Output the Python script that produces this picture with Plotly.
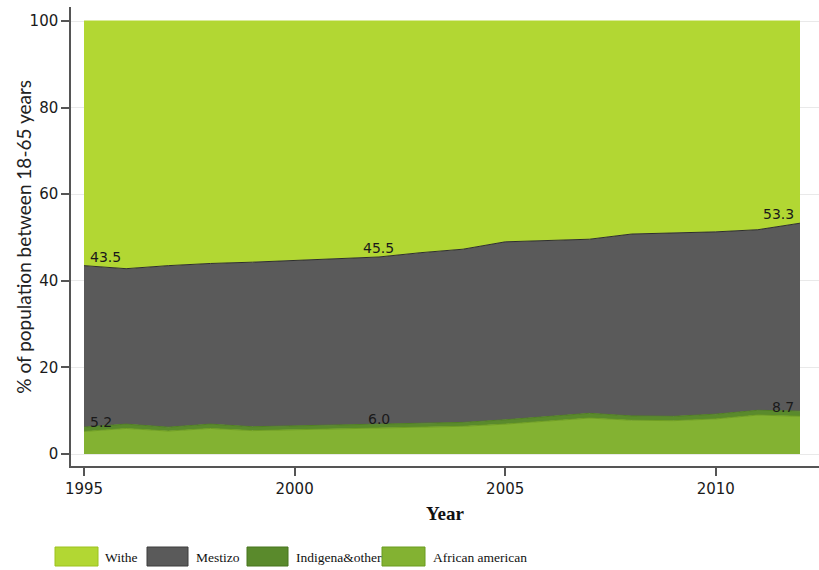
import plotly.graph_objects as go

years = list(range(1995, 2013))
african_american = [5.2, 5.9, 5.3, 5.9, 5.4, 5.6, 5.8, 6.0, 6.2, 6.4, 6.9, 7.6, 8.3, 7.8, 7.7, 8.1, 9.0, 8.7]
indigena_other = [1.0, 1.0, 0.9, 1.0, 0.9, 0.9, 1.0, 1.0, 1.0, 0.9, 1.0, 1.0, 1.1, 1.0, 1.0, 1.1, 1.1, 1.2]
mestizo = [37.3, 35.9, 37.3, 37.1, 38.0, 38.2, 38.3, 38.5, 39.3, 40.0, 41.1, 40.7, 40.2, 42.0, 42.3, 42.1, 41.7, 43.4]
withe = [56.5, 57.2, 56.5, 56.0, 55.7, 55.3, 54.9, 54.5, 53.5, 52.7, 51.0, 50.7, 50.4, 49.2, 49.0, 48.7, 48.2, 46.7]

label_years = [1995, 2002, 2012]
y_ticks = [0, 20, 40, 60, 80, 100]
x_ticks = [1995, 2000, 2005, 2010]

C_WITHE = "#b2d733"
C_MESTIZO = "#5a5a5a"
C_INDIGENA = "#5a8a2c"
C_AFRICAN = "#83b232"

fig = go.Figure()
series = [
    ("African american", african_american, C_AFRICAN, "#6f9e22"),
    ("Indigena&other", indigena_other, C_INDIGENA, "#4f7f22"),
    ("Mestizo", mestizo, C_MESTIZO, "#2e2e2e"),
    ("Withe", withe, C_WITHE, C_WITHE),
]
for name, vals, fc, lc in series:
    fig.add_trace(go.Scatter(
        x=years, y=vals, name=name, stackgroup="one", mode="lines",
        fillcolor=fc, line=dict(color=lc, width=1), showlegend=False,
        hoverinfo="x+y+name",
    ))

# cumulative values for labels
cum_af = african_american
cum_mest = [a + i + m for a, i, m in zip(african_american, indigena_other, mestizo)]

lab_font = dict(family="DejaVu Sans", size=14, color="#1a1a1a")
anchors = {1995: ("left", 4), 2002: ("center", 0), 2012: ("right", -4)}
for yr in label_years:
    idx = years.index(yr)
    xa, xs = anchors[yr]
    for v in (cum_af[idx], cum_mest[idx]):
        fig.add_annotation(x=yr, y=v, text=f"{v:.1f}", showarrow=False,
                           xanchor=xa, xshift=xs, yanchor="middle", yshift=9,
                           font=lab_font)

# Axis title (y) as annotation
fig.add_annotation(xref="paper", yref="paper", x=-0.064, y=0.5, text="% of population between 18-65 years",
                   textangle=-90, showarrow=False, xanchor="center", yanchor="middle",
                   font=dict(family="Lato", size=19, color="#222"))

# Manual legend
legend_items = [
    ("Withe", C_WITHE, "#9cc21f", 55, 98, 103),
    ("Mestizo", C_MESTIZO, "#3c3c3c", 147, 188, 194),
    ("Indigena&other", C_INDIGENA, "#46751c", 247, 288, 294),
    ("African american", C_AFRICAN, "#6a9c1e", 382, 425, 431),
]
W, L, T, PH = 748, 71, 7, 459
def px2x(px):
    return (px - L) / W
def py2y(py):
    return (T + PH - py) / PH
for name, fc, lc, x0, x1, tx in legend_items:
    fig.add_shape(type="rect", xref="paper", yref="paper",
                  x0=px2x(x0), x1=px2x(x1), y0=py2y(566), y1=py2y(547),
                  fillcolor=fc, line=dict(color=lc, width=1))
    fig.add_annotation(xref="paper", yref="paper", x=px2x(tx), y=py2y(557), text=name,
                       showarrow=False, xanchor="left", yanchor="middle",
                       font=dict(family="Liberation Serif", size=13.5, color="#111"))

fig.update_layout(
    width=819, height=570,
    margin=dict(l=L, r=0, t=T, b=570 - T - PH),
    paper_bgcolor="white", plot_bgcolor="white",
    showlegend=False,
    xaxis=dict(
        range=[1995 - 13 / 42.12, 2012 + 19 / 42.12],
        tickvals=x_ticks, ticktext=[str(t) for t in x_ticks],
        showgrid=False, zeroline=False,
        showline=True, linecolor="#555", linewidth=1.5,
        ticks="outside", ticklen=8, tickcolor="#555", tickwidth=1.5,
        tickfont=dict(family="DejaVu Sans", size=15, color="#1a1a1a"),
        title=dict(text="<b>Year</b>", font=dict(family="Liberation Serif", size=19, color="#111"), standoff=10),
    ),
    yaxis=dict(
        range=[-12 / 4.33, 100 + 14 / 4.33],
        tickvals=y_ticks,
        showgrid=True, gridcolor="#e9e9e9", gridwidth=1, zeroline=False,
        showline=True, linecolor="#555", linewidth=1.5,
        ticks="outside", ticklen=8, tickcolor="#555", tickwidth=1.5,
        tickfont=dict(family="DejaVu Sans", size=15, color="#1a1a1a"),
    ),
)

fig.write_html("out.html", config={"displayModeBar": False},
               post_script="document.body.style.margin='0';document.body.style.padding='0';")
